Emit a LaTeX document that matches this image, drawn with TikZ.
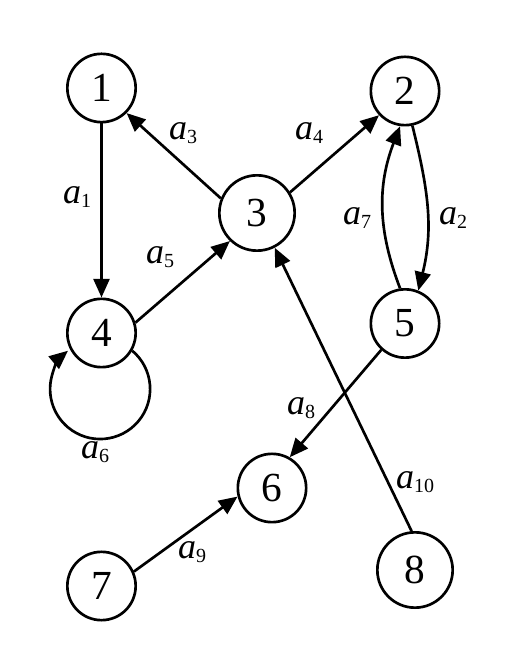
\documentclass[tikz,border=0pt]{standalone}
\usepackage{fontspec}
\setmainfont{Liberation Serif}
\usetikzlibrary{arrows.meta}
\newcommand{\lab}[1]{{\itshape a}\raisebox{-2.5pt}{\fontsize{15}{15}\selectfont #1}}
\begin{document}
\begin{tikzpicture}[x=0.75pt,y=0.75pt,
		vtx/.style={circle,draw,line width=2pt,inner sep=0pt,minimum size=51.25pt,font=\fontsize{31}{31}\selectfont},
		big/.style={vtx,minimum size=56.5pt},
		arr/.style={-{Triangle[length=14pt,width=12pt]},line width=2pt},
		lbl/.style={font=\fontsize{27}{27}\selectfont,inner sep=0pt}]
		\useasboundingbox (0,0) rectangle (518,666);
		\node[vtx] (n1) at (101.5,578) {1};
		\node[vtx] (n2) at (405,575) {2};
		\node[big] (n3) at (257,453) {3};
		\node[vtx] (n4) at (101.5,333) {4};
		\node[vtx] (n5) at (405,342.5) {5};
		\node[vtx] (n6) at (272,178) {6};
		\node[vtx] (n7) at (101.5,80) {7};
		\node[big] (n8) at (415,96) {8};
		% edges
		\draw[arr] (n1.-90) -- (n4.90);
		\draw[arr] (n3.158) -- (n1.-45);
		\draw[arr] (n3.32) -- (n2.-137);
		\draw[arr] (n4.17) -- (n3.-134);
		\draw[arr] (n2.-78) to[out=-76,in=76] (n5.68);
		\draw[arr] (n5.98) to[out=111,in=-111] (n2.-98);
		\draw[arr] (n5.-132) -- (n6.60);
		\draw[arr] (n7.24) -- (n6.-166);
		\draw[arr] (n8.95) -- (n3.-63);
		\draw[arr] (n4.-30) arc[start angle=50,end angle=-230,radius=37.5pt];
		% labels
		\node[lbl] (l1) at (77,469) {\lab{1}};
		\node[lbl] (l2) at (453,448) {\lab{2}};
		\node[lbl] (l3) at (183,533) {\lab{3}};
		\node[lbl] (l4) at (309,533) {\lab{4}};
		\node[lbl] (l5) at (160,409) {\lab{5}};
		\node[lbl] (l6) at (95,214) {\lab{6}};
		\node[lbl] (l7) at (357,448) {\lab{7}};
		\node[lbl] (l8) at (301,258) {\lab{8}};
		\node[lbl] (l9) at (192,114) {\lab{9}};
		\node[lbl] (l10) at (415,184) {\lab{10}};
	\end{tikzpicture}
\end{document}
